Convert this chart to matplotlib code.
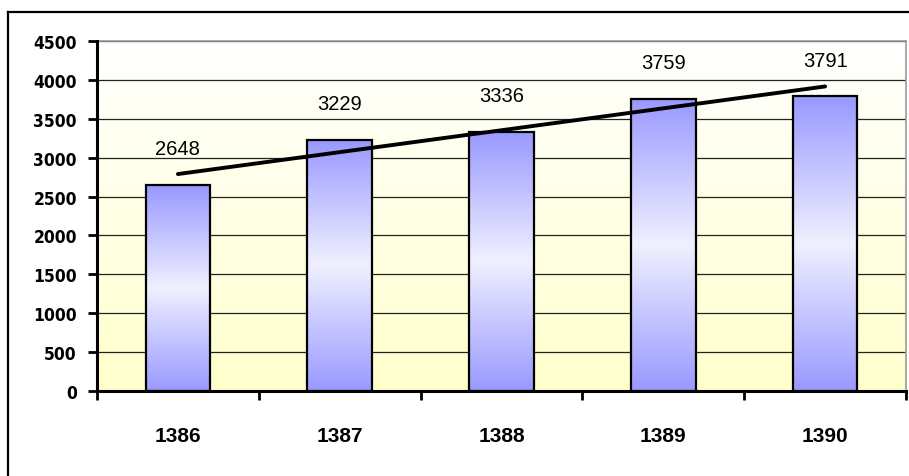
import matplotlib.pyplot as plt
import numpy as np
from matplotlib.colors import LinearSegmentedColormap
from matplotlib.lines import Line2D

years = ["1386", "1387", "1388", "1389", "1390"]
values = [2648, 3229, 3336, 3759, 3791]
y_ticks = [0, 500, 1000, 1500, 2000, 2500, 3000, 3500, 4000, 4500]

fig = plt.figure(figsize=(9.09, 4.77), dpi=100)
ax = fig.add_axes([97 / 909, 1 - 392 / 477, 809 / 909, 350 / 477])

x = np.arange(len(years))
ax.set_xlim(-0.5, len(years) - 0.5)
ax.set_ylim(0, 4500)

# background: white on top fading to pale yellow at the bottom
bg = LinearSegmentedColormap.from_list("bg", ["#ffffcc", "#ffffff"])
ax.imshow(np.linspace(0, 1, 256).reshape(-1, 1), cmap=bg, aspect="auto",
          extent=[-0.5, len(years) - 0.5, 0, 4500], origin="lower", zorder=0)

for yv in y_ticks[1:]:
    ax.axhline(yv, color="#222222", lw=0.9, zorder=1)

bars = ax.bar(x, values, width=0.4, facecolor="none", edgecolor="black",
              linewidth=1.6, zorder=4)

# bar fill: blue at both ends, almost white in the middle
barmap = LinearSegmentedColormap.from_list(
    "bar", [(0, "#9999ff"), (0.5, "#f0f0ff"), (1, "#9999ff")])
for b in bars:
    x0, w, h = b.get_x(), b.get_width(), b.get_height()
    ax.imshow(np.linspace(0, 1, 256).reshape(-1, 1), cmap=barmap, aspect="auto",
              extent=[x0, x0 + w, 0, h], origin="lower", zorder=3)
    ax.annotate(f"{int(h)}", (x0 + w / 2, h), xytext=(0, 26),
                textcoords="offset points", ha="center", va="center",
                fontsize=14.5, family="Liberation Sans")

# linear trend line
k, c = np.polyfit(x, values, 1)
ax.plot(x, k * x + c, color="black", lw=2.8, zorder=5, solid_capstyle="round")

ax.set_xlim(-0.5, len(years) - 0.5)
ax.set_ylim(0, 4500)

ax.set_yticks(y_ticks)
ax.set_yticklabels([str(v) for v in y_ticks], fontsize=12.5, fontweight="bold",
                   family="DejaVu Sans", fontstretch="condensed")
ax.tick_params(axis="y", length=6.5, width=2, pad=8)

ax.set_xticks(np.arange(len(years) + 1) - 0.5)
ax.set_xticklabels([])
ax.set_xticks(x, minor=True)
ax.set_xticklabels(years, minor=True, fontsize=15, fontweight="bold",
                   family="Liberation Sans")
ax.tick_params(axis="x", which="major", length=6.5, width=2, direction="out")
ax.tick_params(axis="x", which="minor", length=0, pad=25)

for side in ("left", "bottom"):
    ax.spines[side].set_linewidth(2.2)
    ax.spines[side].set_color("black")
    ax.spines[side].set_zorder(6)
for side in ("top", "right"):
    ax.spines[side].set_linewidth(1.2)
    ax.spines[side].set_color("#999999")

# outer chart frame (top and left edges visible)
fig.add_artist(Line2D([8 / 909, 8 / 909], [0, 1 - 13 / 477], color="black",
                      lw=1.6, transform=fig.transFigure))
fig.add_artist(Line2D([8 / 909, 1], [1 - 13 / 477, 1 - 13 / 477], color="black",
                      lw=1.6, transform=fig.transFigure))

fig.savefig("out.png", dpi=100)
